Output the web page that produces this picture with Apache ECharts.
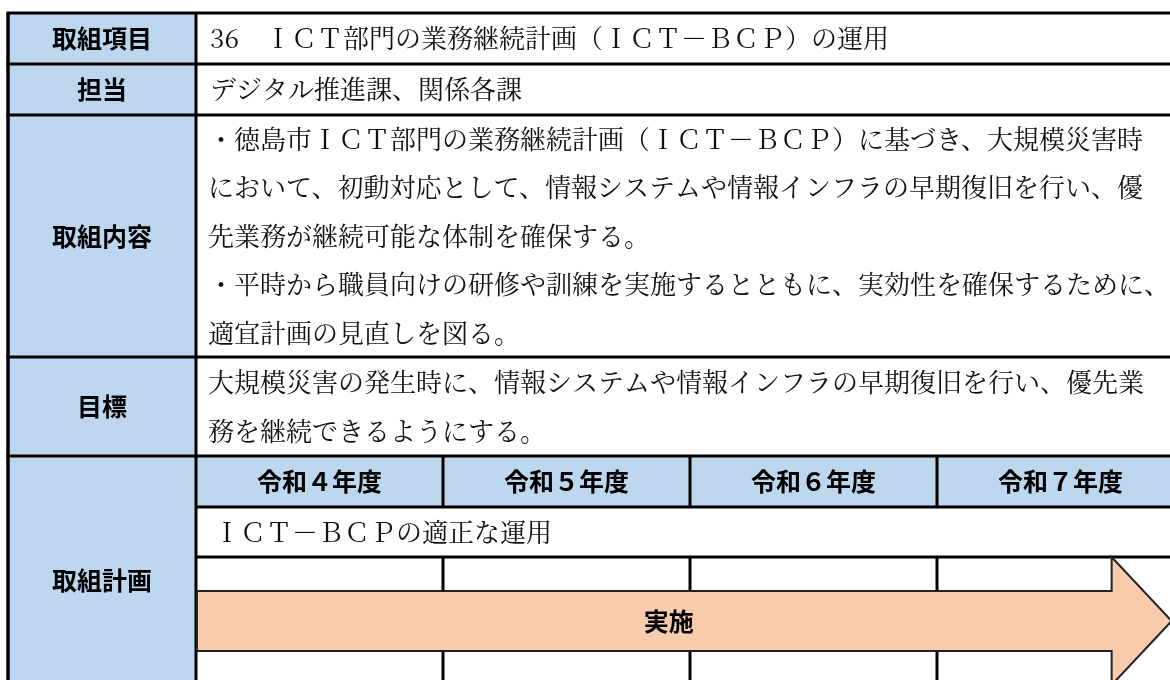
<!DOCTYPE html>
<html><head><meta charset="utf-8">
<script src="https://cdn.jsdelivr.net/npm/echarts@6/dist/echarts.min.js"></script>
<style>html,body{margin:0;padding:0;background:#fff}#c{width:1170px;height:680px}</style>
</head><body><div id="c"></div>
<script>
// ---- data ----
const rowLabels = ['取組項目', '担当', '取組内容', '目標', '取組計画'];
const itemText = '36　ＩＣＴ部門の業務継続計画（ＩＣＴ－ＢＣＰ）の運用';
const staffText = 'デジタル推進課、関係各課';
const contentLines = [
  '・徳島市ＩＣＴ部門の業務継続計画（ＩＣＴ－ＢＣＰ）に基づき、大規模災害時',
  'において、初動対応として、情報システムや情報インフラの早期復旧を行い、優',
  '先業務が継続可能な体制を確保する。',
  '・平時から職員向けの研修や訓練を実施するとともに、実効性を確保するために、',
  '適宜計画の見直しを図る。'
];
const goalLines = [
  '大規模災害の発生時に、情報システムや情報インフラの早期復旧を行い、優先業',
  '務を継続できるようにする。'
];
const years = ['令和４年度', '令和５年度', '令和６年度', '令和７年度'];
const planText = 'ＩＣＴ－ＢＣＰの適正な運用';
const arrowLabel = '実施';
const arrowSpan = [0, 3.95]; // year index start -> end

// ---- layout ----
const X0 = 8, XC = 196, COLW = 247, XR = XC + COLW * years.length;
const rowsY = [13, 64, 115, 357, 456, 720];
const planY = [456, 507, 557, 720];
const BLUE = '#BDD7EE', LW = 3;
const serif = '"Noto Serif CJK JP","Noto Sans CJK JP",serif';
const sans = '"Noto Sans CJK JP",sans-serif';

const g = [];
function rect(x, y, w, h, fill) { g.push({type:'rect', z:0, shape:{x, y, width:w, height:h}, style:{fill}}); }
function line(x1, y1, x2, y2, w) { g.push({type:'line', z:5, shape:{x1, y1, x2, y2}, style:{stroke:'#000', lineWidth:w || LW}}); }
function text(t, x, y, opt) {
  g.push({type:'text', z:10, x, y, style:Object.assign({text:t, fill:'#111', font:'normal 26px ' + serif, textVerticalAlign:'middle', textAlign:'left'}, opt || {})});
}

// backgrounds
rect(X0, rowsY[0], XC - X0, 720 - rowsY[0], BLUE);
rect(XC, planY[0], XR - XC, planY[1] - planY[0], BLUE);

// labels
rowLabels.forEach((lab, i) => {
  let cy = (rowsY[i] + rowsY[i + 1]) / 2;
  if (i === 4) cy = 580;
  text(lab, (X0 + XC) / 2, cy, {font:'bold 25px ' + sans, textAlign:'center', fill:'#000'});
});

// simple text rows
const TX = 210;
text(itemText, TX, (rowsY[0] + rowsY[1]) / 2);
text(staffText, TX, (rowsY[1] + rowsY[2]) / 2);
const lh3 = (rowsY[3] - rowsY[2]) / contentLines.length;
contentLines.forEach((t, i) => text(t, TX - 2, rowsY[2] + lh3 * (i + 0.5)));
const lh4 = (rowsY[4] - rowsY[3]) / goalLines.length;
goalLines.forEach((t, i) => text(t, TX - 2, rowsY[3] + lh4 * (i + 0.5)));

// plan
years.forEach((y, i) => text(y, XC + COLW * (i + 0.5), (planY[0] + planY[1]) / 2, {font:'bold 25px ' + sans, textAlign:'center', fill:'#000'}));
text(planText, TX + 4, (planY[1] + planY[2]) / 2);

// grid lines
rowsY.slice(0, 5).forEach(y => line(X0 - 1.5, y, XR, y));
line(XC, planY[1], XR, planY[1]);
line(XC, planY[2], XR, planY[2]);
line(X0, rowsY[0], X0, 720, 3.5);
line(XC, rowsY[0], XC, 720);
for (let i = 1; i < years.length; i++) {
  line(XC + COLW * i, planY[0], XC + COLW * i, planY[1]);
  line(XC + COLW * i, planY[2], XC + COLW * i, 720);
}

const chart = echarts.init(document.getElementById('c'), null, {renderer:'canvas'});
chart.setOption({
  animation:false,
  graphic:{elements:g},
  grid:{left:XC, top:0, width:XR - XC, height:680, outerBoundsMode:'none', containLabel:false},
  xAxis:{type:'value', min:0, max:years.length, show:false},
  yAxis:{type:'value', min:0, max:680, inverse:true, show:false},
  series:[{
    type:'custom', z:20,
    data:[[arrowSpan[0], arrowSpan[1], 591, 651, 557, 685]],
    renderItem:function(params, api){
      const s = api.coord([api.value(0), api.value(2)]);
      const e = api.coord([api.value(1), api.value(3)]);
      const hTop = api.coord([0, api.value(4)])[1];
      const hBot = api.coord([0, api.value(5)])[1];
      const yT = s[1], yB = e[1];
      const tipX = e[0], baseX = tipX - 60;
      const midY = (hTop + hBot) / 2;
      return {
        type:'group',
        children:[{
          type:'polygon',
          shape:{points:[[s[0]+1, yT],[baseX, yT],[baseX, hTop],[tipX, midY],[baseX, hBot],[baseX, yB],[s[0]+1, yB]]},
          style:{fill:'#F8CBAD', stroke:'#222', lineWidth:2}
        },{
          type:'text',
          style:{text:arrowLabel, x:(s[0] + tipX) / 2 - 15, y:(yT + yB) / 2, font:'bold 25px ' + sans, fill:'#000', textAlign:'center', textVerticalAlign:'middle'}
        }]
      };
    }
  }]
});
</script></body></html>
